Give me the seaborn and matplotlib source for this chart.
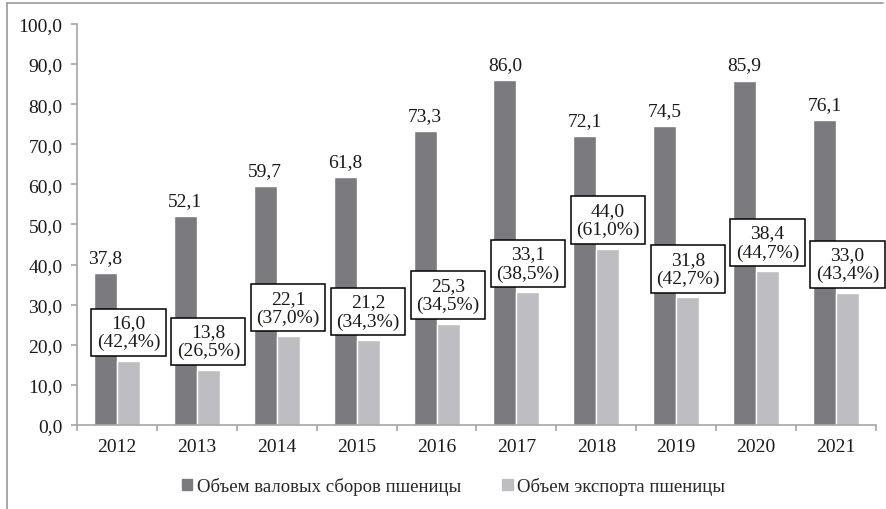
import seaborn as sns
import matplotlib.pyplot as plt
import pandas as pd
from matplotlib.lines import Line2D
from matplotlib.ticker import MultipleLocator, FuncFormatter

# Data
years = ['2012', '2013', '2014', '2015', '2016', '2017', '2018', '2019', '2020', '2021']
harvest = [37.8, 52.1, 59.7, 61.8, 73.3, 86.0, 72.1, 74.5, 85.9, 76.1]
export = [16.0, 13.8, 22.1, 21.2, 25.3, 33.1, 44.0, 31.8, 38.4, 33.0]
export_share = [42.4, 26.5, 37.0, 34.3, 34.5, 38.5, 61.0, 42.7, 44.7, 43.4]
series_names = ['Объем валовых сборов пшеницы', 'Объем экспорта пшеницы']

df = pd.DataFrame({
    'Год': years * 2,
    'Значение': harvest + export,
    'Ряд': [series_names[0]] * len(years) + [series_names[1]] * len(years),
})

sns.set_style('white')
plt.rcParams['font.family'] = ['Liberation Serif', 'DejaVu Serif']

def fmt(v):
    return f'{v:.1f}'.replace('.', ',')

fig = plt.figure(figsize=(8.86, 5.10), dpi=100)
ax = fig.add_axes([0.0869, 0.1647, 0.9018, 0.7863])

sns.barplot(data=df, x='Год', y='Значение', hue='Ряд', palette=['#7a7a7f', '#bebec2'],
            saturation=1, width=0.575, errorbar=None, ax=ax)

ax.set_ylim(0, 100)
ax.set_xlim(-0.5, len(years) - 0.5)
ax.set_xlabel('')
ax.set_ylabel('')
ax.yaxis.set_major_locator(MultipleLocator(10))
ax.yaxis.set_major_formatter(FuncFormatter(lambda v, p: fmt(v)))

# axes style
axis_col = '#a6a6a6'
for s in ['top', 'right']:
    ax.spines[s].set_visible(False)
for s in ['left', 'bottom']:
    ax.spines[s].set_color(axis_col)
    ax.spines[s].set_linewidth(1.2)
ax.tick_params(axis='y', which='major', direction='out', length=4.5, width=1.2,
               color=axis_col, pad=6, labelsize=14, labelcolor='#1a1a1a', left=True)
ax.tick_params(axis='x', which='major', length=0, pad=9, labelsize=14, labelcolor='#1a1a1a')
ax.set_xticks([i - 0.5 for i in range(len(years) + 1)], minor=True)
ax.tick_params(axis='x', which='minor', direction='out', length=4, width=1.2,
               color=axis_col, bottom=True)

# value labels over harvest bars
for bar, v in zip(ax.containers[0], harvest):
    ax.annotate(fmt(v), (bar.get_x() + bar.get_width() / 2, bar.get_height()),
                xytext=(0, 5), textcoords='offset points', ha='center', va='bottom',
                fontsize=14, color='#1a1a1a')

# boxed labels over export bars
for bar, v, s in zip(ax.containers[1], export, export_share):
    ax.annotate(f'{fmt(v)}\n({fmt(s)}%)',
                (bar.get_x() + bar.get_width() / 2, bar.get_height()),
                xytext=(0, 7.5), textcoords='offset points', ha='center', va='bottom',
                fontsize=14, color='#1a1a1a', linespacing=1.15, multialignment='center',
                bbox=dict(boxstyle='square,pad=0.28', fc='white', ec='black', lw=1.1))

# legend
handles = [plt.Rectangle((0, 0), 1, 1, color=c) for c in ['#7a7a7f', '#bebec2']]
ax.legend(handles, series_names, loc='center', bbox_to_anchor=(0.512, 0.045),
          bbox_transform=fig.transFigure, ncol=2, frameon=False, fontsize=13.5,
          handlelength=0.55, handleheight=0.55, handletextpad=0.25, columnspacing=2.2)

# figure border (left and top)
fig.add_artist(Line2D([0.0079, 0.0079], [0.0, 0.992], transform=fig.transFigure,
                      color='#a0a0a0', lw=1.3))
fig.add_artist(Line2D([0.0079, 0.997], [0.992, 0.992], transform=fig.transFigure,
                      color='#a0a0a0', lw=1.3))

fig.savefig('out.png', dpi=100)
